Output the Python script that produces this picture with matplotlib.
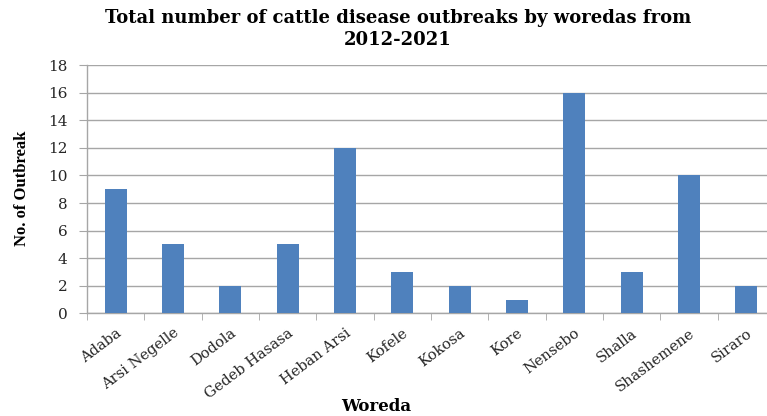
import matplotlib
matplotlib.use("Agg")
import matplotlib.pyplot as plt
import numpy as np

woredas = ["Adaba", "Arsi Negelle", "Dodola", "Gedeb Hasasa", "Heban Arsi",
           "Kofele", "Kokosa", "Kore", "Nensebo", "Shalla", "Shashemene", "Siraro"]
outbreaks = [9, 5, 2, 5, 12, 3, 2, 1, 16, 3, 10, 2]
y_ticks = [0, 2, 4, 6, 8, 10, 12, 14, 16, 18]

plt.rcParams["font.family"] = ["DejaVu Serif"]

fig = plt.figure(figsize=(7.67, 4.16), dpi=100)
ax = fig.add_axes([0.1134, 0.2468, 0.897, 0.5967])

x = np.arange(len(woredas))
ax.bar(x, outbreaks, width=0.38, color="#4F81BD", zorder=3)

ax.set_xlim(-0.5, len(woredas) - 0.5)
ax.set_ylim(0, 18)
ax.set_yticks(y_ticks)
ax.set_yticklabels([str(v) for v in y_ticks], fontsize=11, color="#262626")
ax.yaxis.grid(True, color="#A6A6A6", linewidth=1.0, zorder=0)

ax.set_xticks(x)
ax.set_xticklabels(woredas, rotation=37, ha="right", rotation_mode="anchor",
                   fontsize=10.5, color="#262626")
ax.set_xticks(np.arange(-0.5, len(woredas), 1.0), minor=True)
ax.tick_params(axis="x", which="major", length=0, pad=9)
ax.tick_params(axis="x", which="minor", length=5, color="#A6A6A6")
ax.tick_params(axis="y", length=6, color="#A6A6A6", pad=8)

for side in ["top", "right"]:
    ax.spines[side].set_visible(False)
for side in ["left", "bottom"]:
    ax.spines[side].set_color("#A6A6A6")
    ax.spines[side].set_linewidth(1.0)

fig.text(0.029, 0.548, "No. of Outbreak", family="Liberation Serif", fontsize=12,
         fontweight="bold", rotation=90, ha="center", va="center")
fig.text(0.49, 0.024, "Woreda", fontsize=12, fontweight="bold", ha="center", va="center")

fig.text(0.519, 0.931, "Total number of cattle disease outbreaks by woredas from\n2012-2021",
         fontsize=13, fontweight="bold", ha="center", va="center", linespacing=1.3)

fig.savefig("out.png", dpi=100)
